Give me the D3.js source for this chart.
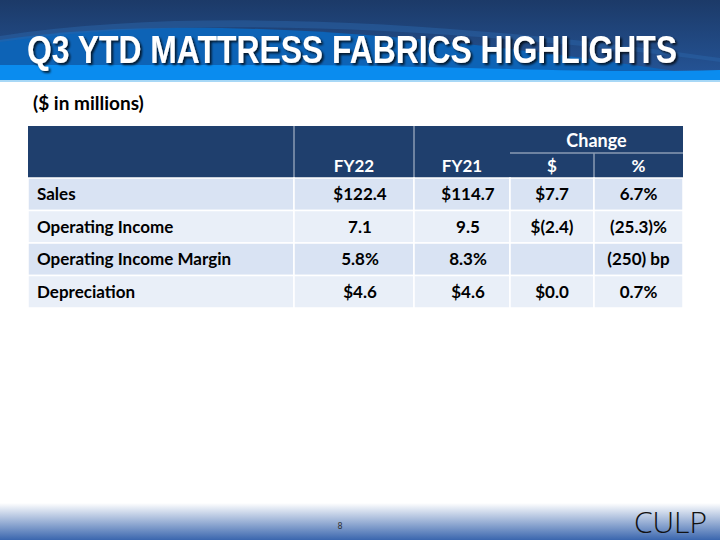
<!DOCTYPE html>
<html><head><meta charset="utf-8">
<script src="https://cdn.jsdelivr.net/npm/d3@7"></script>
<style>html,body{margin:0;padding:0;background:#fff;}svg{display:block;}</style>
</head><body>
<script>
const title = "Q3 YTD MATTRESS FABRICS HIGHLIGHTS";
const subtitle = "($ in millions)";
const columns = ["FY22", "FY21", "$", "%"];
const groupHeader = "Change";
const rowLabels = ["Sales", "Operating Income", "Operating Income Margin", "Depreciation"];
const fy22 = ["$122.4", "7.1", "5.8%", "$4.6"];
const fy21 = ["$114.7", "9.5", "8.3%", "$4.6"];
const changeDollar = ["$7.7", "$(2.4)", "", "$0.0"];
const changePct = ["6.7%", "(25.3)%", "(250) bp", "0.7%"];
const pageNumber = "8";
const logo = "CULP";

const W = 720, H = 540;
const svg = d3.select("body").append("svg").attr("width", W).attr("height", H);
const defs = svg.append("defs");

// header
const hg = defs.append("linearGradient").attr("id","hg").attr("x1",0).attr("y1",0).attr("x2",0).attr("y2",1);
hg.append("stop").attr("offset","0%").attr("stop-color","#1c3a68");
hg.append("stop").attr("offset","100%").attr("stop-color","#25569a");
svg.append("rect").attr("x",0).attr("y",0).attr("width",W).attr("height",81).attr("fill","url(#hg)");
svg.append("path").attr("d","M0,40 C200,10 480,40 720,78 L720,81 L0,81 Z").attr("fill","#0d63b6");
svg.append("path").attr("d","M0,36 C220,2 520,30 720,58 L720,62 C520,36 220,10 0,42 Z").attr("fill","#2a64a8").attr("opacity",0.5);
svg.append("path").attr("d","M0,65 L300,65 C450,66 600,74 720,70 L720,81 L0,81 Z").attr("fill","#0a8cef");
svg.append("rect").attr("x",0).attr("y",80).attr("width",W).attr("height",2).attr("fill","#a8d8f6");

// title with shadow
const tf = defs.append("filter").attr("id","sh").attr("filterUnits","userSpaceOnUse")
  .attr("x",0).attr("y",0).attr("width",W).attr("height",90);
tf.append("feDropShadow").attr("dx",2).attr("dy",2).attr("stdDeviation",1.2).attr("flood-color","#000").attr("flood-opacity",0.75);
svg.append("text").attr("x",27).attr("y",63).text(title)
  .attr("font-family","Liberation Sans Narrow, Liberation Sans, Arial, sans-serif").attr("font-weight","bold").attr("font-size",38)
  .attr("fill","#fff").attr("textLength",650).attr("lengthAdjust","spacingAndGlyphs").attr("filter","url(#sh)");

// footer
const fg = defs.append("linearGradient").attr("id","fg").attr("x1",0).attr("y1",0).attr("x2",0).attr("y2",1);
fg.append("stop").attr("offset","0%").attr("stop-color","#ffffff");
fg.append("stop").attr("offset","100%").attr("stop-color","#3a66ae");
svg.append("rect").attr("x",0).attr("y",503).attr("width",W).attr("height",37).attr("fill","url(#fg)");
svg.append("text").attr("x",340).attr("y",529).attr("text-anchor","middle").text(pageNumber)
  .attr("font-family","DejaVu Sans, sans-serif").attr("font-size",8).attr("fill","#333");
svg.append("text").attr("x",707).attr("y",533).attr("text-anchor","end").text(logo)
  .attr("font-family","Open Sans, sans-serif").attr("font-weight",300).attr("font-size",30).attr("fill","#111");

// subtitle
svg.append("text").attr("x",33).attr("y",110).text(subtitle)
  .attr("font-family","Lato, sans-serif").attr("font-weight","bold").attr("font-size",19).attr("fill","#000");

// table
const colEdges = [28, 294, 414, 510, 594, 683];
const headTop = 126, headBot = 178, subLine = 153;
const rowY = d3.scaleBand().domain(d3.range(rowLabels.length)).range([headBot, 308]).padding(0);
const font = "Lato, sans-serif";
const fs = 17;

svg.append("rect").attr("x",colEdges[0]).attr("y",headTop).attr("width",colEdges[5]-colEdges[0]).attr("height",headBot-headTop).attr("fill","#1f3f6d");
[1,2].forEach(i=>svg.append("line").attr("x1",colEdges[i]).attr("x2",colEdges[i]).attr("y1",headTop).attr("y2",headBot).attr("stroke","#8a9bb3").attr("stroke-width",1.5));
svg.append("line").attr("x1",colEdges[4]).attr("x2",colEdges[4]).attr("y1",subLine).attr("y2",headBot).attr("stroke","#8a9bb3").attr("stroke-width",1.5);
svg.append("line").attr("x1",colEdges[3]).attr("x2",colEdges[5]).attr("y1",subLine).attr("y2",subLine).attr("stroke","#8a9bb3").attr("stroke-width",1.5);

const th = (x,y,t)=>svg.append("text").attr("x",x).attr("y",y).attr("text-anchor","middle").text(t)
  .attr("font-family",font).attr("font-weight","bold").attr("font-size",fs).attr("fill","#fff");
th((colEdges[3]+colEdges[5])/2, 147, groupHeader).attr("font-size",18);
columns.forEach((c,i)=>th((colEdges[i+1]+colEdges[i+2])/2, 172, c));

const rowsData = rowLabels.map((l,i)=>({label:l, vals:[fy22[i], fy21[i], changeDollar[i], changePct[i]], i}));
const rows = svg.selectAll("g.row").data(rowsData).join("g").attr("class","row");
rows.each(function(d){
  const g = d3.select(this);
  const y0 = rowY(d.i), h = rowY.bandwidth();
  for (let c=0;c<5;c++){
    g.append("rect").attr("x",colEdges[c]).attr("y",y0).attr("width",colEdges[c+1]-colEdges[c]).attr("height",h)
      .attr("fill", d.i%2===0 ? "#d9e3f3" : "#e9eff8").attr("stroke","#ffffff").attr("stroke-width",1.5);
  }
  g.append("text").attr("x",colEdges[0]+9).attr("y",y0+h/2+6).text(d.label)
    .attr("font-family",font).attr("font-weight","bold").attr("font-size",fs).attr("fill","#000");
  d.vals.forEach((v,k)=>{
    g.append("text").attr("x",(colEdges[k+1]+colEdges[k+2])/2 + (k===0||k===1?6:0)).attr("y",y0+h/2+6).attr("text-anchor","middle").text(v)
      .attr("font-family",font).attr("font-weight","bold").attr("font-size",fs).attr("fill","#000");
  });
});
</script>
</body></html>
